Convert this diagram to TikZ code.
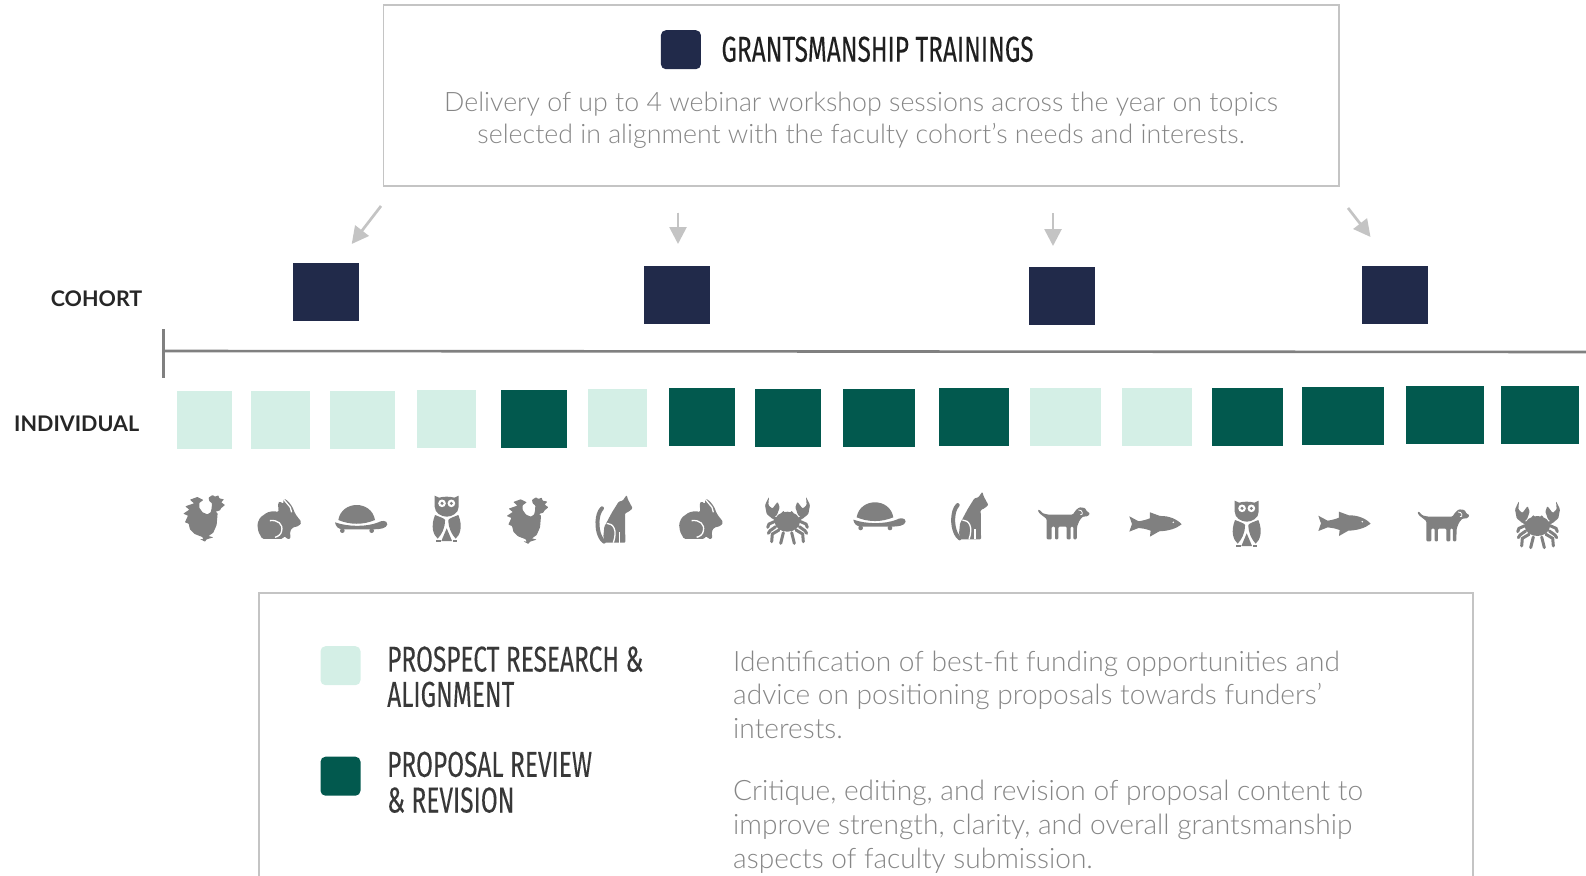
\documentclass[tikz,border=0pt]{standalone}
\usepackage{fontspec}
\setmainfont{Lato}[UprightFont=* Light, BoldFont=Lato Bold]
\newfontfamily\headfont{Fira Sans}[FakeStretch=0.68, FakeBold=0.15]
\usetikzlibrary{arrows.meta, positioning}
\definecolor{navyblock}{HTML}{212A4A}
\definecolor{deepgreen}{HTML}{02594E}
\definecolor{palegreen}{HTML}{D4EFE6}
\definecolor{framegray}{HTML}{C4C4C4}
\definecolor{axisgray}{HTML}{808080}
\definecolor{bodygray}{HTML}{868686}

\tikzset{
    animal/.style={ fill=axisgray, draw=none },
    limb/.style={ draw=axisgray, line width=3pt, line cap=round, fill=none },
    cutline/.style={ draw=white, line width=1.3pt, fill=none },
    every pic/.style={ scale=0.3333 },
    rooster/.pic={
        \fill[animal, rounded corners=0.5pt] (60,15) -- (42,6) -- (20,14) -- (32,25) -- (6,34) -- (18,44) -- (0,56) -- (14,62) -- (5,82) -- (16,86) -- (20,103) -- (34,117) -- (57,126) -- (60,133) -- (50,132) -- (65,140) -- (70,133) -- (90,127) -- (76,123) -- (90,113) -- (100,90) -- (103,55) -- (97,50) -- (110,46) -- (113,40) -- (125,30) -- (114,22) -- (122,13) -- (108,10) -- (105,1) -- (95,5) -- (88,0) -- (80,5) -- (76,8) -- (78,18) -- (86,25) -- (85,40) -- (82,52) -- (72,58) -- (58,52) -- (48,38) -- (48,24) -- cycle;
    },
    rabbit/.pic={
        \fill[animal, rounded corners=1.5pt] (0,77) -- (8,58) -- (30,42) -- (50,38) -- (64,42) -- (62,14) -- (68,8) -- (78,18) -- (79,0) -- (92,8) -- (105,25) -- (114,47) -- (133,72) -- (125,83) -- (105,88) -- (98,100) -- (100,122) -- (88,122) -- (82,112) -- (76,122) -- (15,122) -- (3,100) -- cycle;
        \draw[cutline] (38,67) .. controls (62,64) and (78,78) .. (73,98) .. controls (72,108) and (62,115) .. (53,117);
        \draw[cutline] (79,3) -- (99,27) -- (103,42);
    },
    turtle/.pic={
        \fill[animal] (10,45) .. controls (15,15) and (40,0) .. (65,0) .. controls (90,0) and (115,15) .. (120,45) .. controls (85,60) and (45,60) .. (10,45) -- cycle;
        \fill[animal] (0,52) .. controls (40,66) and (95,66) .. (130,52) .. controls (137,47) and (157,44) .. (157,58) .. controls (155,70) and (135,73) .. (115,73) -- (25,73) .. controls (10,73) and (2,65) .. (0,52) -- cycle;
        \fill[animal] (22,77) circle (7);
        \fill[animal] (110,77) circle (7);
    },
    owl/.pic={
        \fill[animal] (9,2) -- (22,8) .. controls (35,4) and (55,4) .. (68,8) -- (81,2) -- (81,35) .. controls (81,55) and (60,65) .. (45,65) .. controls (30,65) and (9,55) .. (9,35) -- cycle;
        \fill[white] (31,25) circle (11.5);
        \fill[white] (59,25) circle (11.5);
        \fill[animal] (31,25) circle (5);
        \fill[animal] (59,25) circle (5);
        \fill[animal] (10,60) .. controls (25,66) and (38,70) .. (40,75) .. controls (40,100) and (30,118) .. (18,131) .. controls (5,120) and (-4,95) .. (10,60) -- cycle;
        \fill[animal] (80,60) .. controls (65,66) and (52,70) .. (50,75) .. controls (50,100) and (60,118) .. (72,131) .. controls (85,120) and (94,95) .. (80,60) -- cycle;
        \fill[animal] (45,100) -- (29,138) -- (61,138) -- cycle;
        \fill[animal] (13,134) rectangle (27,140);
        \fill[animal] (63,134) rectangle (77,140);
    },
    cat/.pic={
        \fill[animal, rounded corners=1pt] (92,0) -- (96,14) -- (110,40) -- (98,50) -- (87,55) -- (88,143) -- (27,143) -- (22,125) -- (25,95) -- (48,52) -- (68,20) -- (80,17) -- cycle;
        \draw[limb, line width=4pt] (24,140) .. controls (5,125) and (0,85) .. (8,58) .. controls (10,50) and (14,45) .. (18,40);
        \draw[cutline] (32,85) .. controls (52,85) and (65,105) .. (52,143);
        \draw[cutline] (70,143) -- (70,112);
    },
    crab/.pic={
        \fill[animal] (67,75) ellipse (38 and 30);
        \fill[animal] (55,48) circle (5);
        \fill[animal] (80,48) circle (5);
        \fill[animal, rounded corners=1pt] (12,0) -- (10,25) -- (22,36) -- (38,15) -- (44,32) -- (36,55) -- (22,66) -- (5,52) -- (0,25) -- cycle;
        \fill[animal, rounded corners=1pt] (123,0) -- (125,25) -- (113,36) -- (97,15) -- (91,32) -- (99,55) -- (113,66) -- (130,52) -- (135,25) -- cycle;
        \draw[limb] (22,60) -- (40,72);
        \draw[limb] (113,60) -- (95,72);
        \draw[limb] (30,74) -- (12,82) -- (8,92);
        \draw[limb] (32,90) -- (15,102) -- (10,110);
        \draw[limb] (42,100) -- (22,112) -- (20,135);
        \draw[limb] (55,108) -- (47,140);
        \draw[limb] (105,74) -- (123,82) -- (127,92);
        \draw[limb] (103,90) -- (120,102) -- (125,110);
        \draw[limb] (93,100) -- (113,112) -- (115,135);
        \draw[limb] (80,108) -- (88,140);
    },
    dog/.pic={
        \fill[animal, rounded corners=1pt] (0,8) -- (5,7) -- (15,18) -- (32,22) -- (105,22) -- (115,8) -- (125,0) -- (142,2) -- (147,12) -- (157,18) -- (150,27) -- (135,28) -- (125,40) -- (118,58) -- (117,96) -- (107,96) -- (107,58) -- (99,58) -- (99,96) -- (87,96) -- (87,58) -- (62,58) -- (62,96) -- (52,96) -- (52,58) -- (42,58) -- (42,96) -- (27,96) -- (27,35) -- (18,28) -- (5,18) -- cycle;
        \draw[cutline, line width=0.8pt] (122,8) .. controls (135,6) and (138,25) .. (128,22);
    },
    fish/.pic={
        \fill[animal] (0,12) -- (28,27) .. controls (40,25) and (52,22) .. (62,18) -- (62,0) -- (92,11) .. controls (120,10) and (145,22) .. (157,36) .. controls (140,50) and (115,56) .. (90,57) -- (62,73) -- (64,55) .. controls (50,50) and (40,48) .. (28,47) -- (0,58) -- (8,35) -- cycle;
        \fill[white] (132,30) circle (2.5);
    }
}

\begin{document}
\begin{tikzpicture}[
        x=1pt, y=-1pt,
        panelbox/.style={ rectangle, draw=framegray, line width=1.8pt, anchor=north west, inner sep=0pt },
        cohortblock/.style={ rectangle, fill=navyblock, anchor=north west, minimum height=57.5pt, inner sep=0pt },
        prospectblock/.style={ rectangle, fill=palegreen, anchor=north west, minimum height=58.5pt, inner sep=0pt },
        reviewblock/.style={ rectangle, fill=deepgreen, anchor=north west, minimum height=58.5pt, inner sep=0pt },
        swatch/.style={ rectangle, rounded corners=5pt, anchor=north west, minimum width=40pt, minimum height=39pt, inner sep=0pt },
        headtext/.style={ anchor=base west, inner sep=0pt, align=left, font=\headfont\fontsize{36}{38}\selectfont },
        bodytext/.style={ anchor=base west, inner sep=0pt, align=left, text=bodygray, font=\fontsize{28.1}{33}\selectfont },
        toptext/.style={ anchor=base, inner sep=0pt, align=center, text=bodygray, font=\fontsize{26.75}{33}\selectfont },
        rowlabel/.style={ anchor=base west, inner sep=0pt, text=black!85, font=\bfseries\fontsize{21.5}{24}\selectfont },
        arrow/.style={ -{Triangle[length=17pt,width=17pt]}, line width=2.7pt, draw=framegray, fill=framegray },
        axisline/.style={ draw=axisgray, line width=2.6pt }
    ]
    \useasboundingbox (0,0) rectangle (1586,875);

    % Top panel
    \node (toppanel) [panelbox, minimum width=955.5pt, minimum height=181pt] at (382.5,4) {};
    \node (topswatch) [swatch, fill=navyblock] at (660.7,30) {};
    \node (toptitle) [headtext, text=black!88] at (721.3,61.7) {GRANTSMANSHIP TRAININGS};
    \node (topline) [toptext] at (861,111.3) {Delivery of up to 4 webinar workshop sessions across the year on topics};
    \node (toplinetwo) [toptext] at (861,143.6) {selected in alignment with the faculty cohort’s needs and interests.};

    % Cohort blocks
    \node (cohortlabel) [rowlabel] at (50.6,306.4) {COHORT};
    \node (cohortone) [cohortblock, minimum width=66pt] at (293,263) {};
    \node (cohorttwo) [cohortblock, minimum width=66pt] at (644,266) {};
    \node (cohortthree) [cohortblock, minimum width=66pt] at (1029,267) {};
    \node (cohortfour) [cohortblock, minimum width=66.5pt] at (1361.5,266) {};

    % Arrows from the top panel
    \coordinate (arrowonestart) at (381,206);
    \coordinate (arrowoneend) at (351.7,244);
    \coordinate (arrowtwostart) at (678,212.7);
    \coordinate (arrowtwoend) at (678,244);
    \coordinate (arrowthreestart) at (1053,213.4);
    \coordinate (arrowthreeend) at (1053,246);
    \coordinate (arrowfourstart) at (1348,208);
    \coordinate (arrowfourend) at (1370.5,237);
    \draw[arrow] (arrowonestart) -- (arrowoneend);
    \draw[arrow] (arrowtwostart) -- (arrowtwoend);
    \draw[arrow] (arrowthreestart) -- (arrowthreeend);
    \draw[arrow] (arrowfourstart) -- (arrowfourend);

    % Time axis
    \coordinate (axisstart) at (163.5,351);
    \coordinate (axisend) at (1586,352);
    \coordinate (ticktop) at (163.5,329);
    \coordinate (tickbottom) at (163.5,378);
    \draw[axisline] (axisstart) -- (axisend);
    \draw[axisline] (ticktop) -- (tickbottom);

    % Individual blocks
    \node (individuallabel) [rowlabel] at (14,431.8) {INDIVIDUAL};
    \node (blockone) [prospectblock, minimum width=55pt] at (177,390.5) {};
    \node (blocktwo) [prospectblock, minimum width=59pt] at (251,390.5) {};
    \node (blockthree) [prospectblock, minimum width=65pt] at (330,390.5) {};
    \node (blockfour) [prospectblock, minimum width=59pt] at (417,389.5) {};
    \node (blockfive) [reviewblock, minimum width=66pt] at (501,389.5) {};
    \node (blocksix) [prospectblock, minimum width=59pt] at (588,388.5) {};
    \node (blockseven) [reviewblock, minimum width=66pt] at (669,387.5) {};
    \node (blockeight) [reviewblock, minimum width=66pt] at (755,388.5) {};
    \node (blocknine) [reviewblock, minimum width=72pt] at (843,388.5) {};
    \node (blockten) [reviewblock, minimum width=70pt] at (939,387.5) {};
    \node (blockeleven) [prospectblock, minimum width=71pt] at (1030,387.5) {};
    \node (blocktwelve) [prospectblock, minimum width=70pt] at (1122,387.5) {};
    \node (blockthirteen) [reviewblock, minimum width=71pt] at (1212,387.5) {};
    \node (blockfourteen) [reviewblock, minimum width=82pt] at (1302,386.5) {};
    \node (blockfifteen) [reviewblock, minimum width=78pt] at (1406,385.5) {};
    \node (blocksixteen) [reviewblock, minimum width=78pt] at (1501,385.5) {};

    % Animals
    \pic at (183.3,495) {rooster};
    \pic at (257.3,498.3) {rabbit};
    \pic at (335,505) {turtle};
    \pic at (431.7,495) {owl};
    \pic at (506.7,497.3) {rooster};
    \pic at (596,495) {cat};
    \pic at (679,498.3) {rabbit};
    \pic at (765,496.7) {crab};
    \pic at (853.3,502.3) {turtle};
    \pic at (951.7,491.7) {cat};
    \pic at (1037.7,507.3) {dog};
    \pic at (1129.3,512.3) {fish};
    \pic at (1231.7,500) {owl};
    \pic at (1318.3,511.7) {fish};
    \pic at (1417.3,509.3) {dog};
    \pic at (1515,501) {crab};

    % Legend panel
    \node (legendpanel) [panelbox, minimum width=1214pt, minimum height=320pt] at (258,592) {};
    \node (legendprospect) [swatch, fill=palegreen] at (320.3,646) {};
    \node (legendreview) [swatch, fill=deepgreen] at (320.3,756.5) {};
    \node (prospecttitle) [headtext, text=black!78] at (387,671.6) {PROSPECT RESEARCH \&};
    \node (prospecttitletwo) [headtext, text=black!78] at (387,706.8) {ALIGNMENT};
    \node (reviewtitle) [headtext, text=black!78] at (387,776.8) {PROPOSAL REVIEW};
    \node (reviewtitletwo) [headtext, text=black!78] at (387,812.5) {\& REVISION};
    \node (prospectbody) [bodytext] at (733,671.6) {Identification of best-fit funding opportunities and};
    \node (prospectbodytwo) [bodytext] at (733,704.5) {advice on positioning proposals towards funders’};
    \node (prospectbodythree) [bodytext] at (733,738) {interests.};
    \node (reviewbody) [bodytext] at (733,800) {Critique, editing, and revision of proposal content to};
    \node (reviewbodytwo) [bodytext] at (733,834.5) {improve strength, clarity, and overall grantsmanship};
    \node (reviewbodythree) [bodytext] at (733,868) {aspects of faculty submission.};
\end{tikzpicture}
\end{document}
